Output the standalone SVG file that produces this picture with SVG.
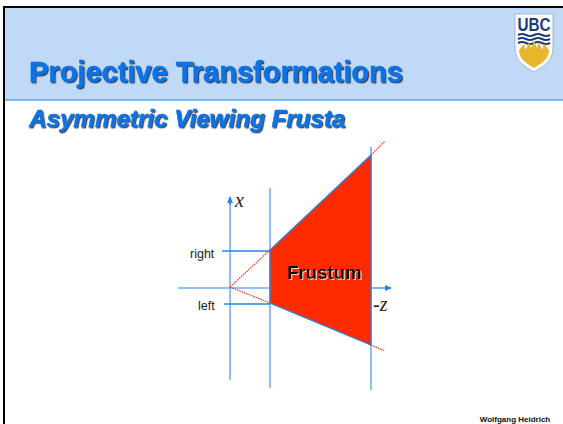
<svg xmlns="http://www.w3.org/2000/svg" width="563" height="424" viewBox="0 0 563 424">
<defs>
<filter id="sh" x="-5%" y="-20%" width="110%" height="140%"><feDropShadow dx="1.2" dy="1.2" stdDeviation="0.7" flood-color="#000" flood-opacity="0.75"/></filter>
<filter id="shw" x="-10%" y="-20%" width="120%" height="140%"><feDropShadow dx="1" dy="1" stdDeviation="0.4" flood-color="#fff" flood-opacity="0.75"/></filter>
<marker id="ah" markerWidth="7" markerHeight="6" refX="6" refY="3" orient="auto" markerUnits="userSpaceOnUse"><path d="M0,0L7,3L0,6Z" fill="#1f86e8"/></marker>
</defs>
<style>
.t{font-family:"Liberation Sans",Arial,sans-serif;font-weight:bold;fill:#0a72e6;stroke:#0a72e6;stroke-width:0.4;filter:url(#sh)}
.lab{font-family:"Liberation Sans",Arial,sans-serif;font-size:12.5px;fill:#222}
.var{font-family:"Liberation Serif","Times New Roman",serif;font-style:italic;font-size:20px;fill:#222}
.ax{stroke:#6cb0f0;stroke-width:1.6;fill:none}
.tick{stroke:#1f86e8;stroke-width:1.3;fill:none}
.ray{stroke:#ff3a2a;stroke-width:1.3;stroke-dasharray:1.5 1;fill:none}
</style>
<rect width="563" height="424" fill="#fff"/>
<rect x="4" y="7" width="559" height="93" fill="#bfd9f7"/>
<path d="M4,424V7H563" fill="none" stroke="#000" stroke-width="2"/>
<line x1="5" y1="100" x2="563" y2="100" stroke="#0a84ff" stroke-width="1"/>
<g id="logo">
<path d="M515,14H553V48C553,62 542,67 534,72C526,67 515,62 515,48Z" fill="#fff" stroke="#9aa7b8" stroke-width="0.8"/>
<path d="M517,16H551V47C551,60 541,65 534,69.500C527,65 517,60 517,47Z" fill="#fff"/>
<text x="534" y="31" text-anchor="middle" font-family="'Liberation Sans',sans-serif" font-weight="bold" font-size="19" fill="#1a3a7a" textLength="33" lengthAdjust="spacingAndGlyphs">UBC</text>
<path d="M518,35q4,-2 8,0t8,0t8,0t8,0M518,39q4,-2 8,0t8,0t8,0t8,0M518,43q4,-2 8,0t8,0t8,0t8,0" fill="none" stroke="#1a3a7a" stroke-width="2"/>
<path d="M519,50L524,44L526,50L529,42L531,48L534,41L537,48L539,42L542,50L544,44L549,50C549,60 540,64 534,68C528,64 519,60 519,50Z" fill="#e9b52f"/>
</g>
<g id="title"><text class="t" x="29" y="81.500" font-size="29">Projective Transformations</text></g>
<g id="subtitle"><text class="t" x="29" y="127" font-size="24.200" font-style="italic">Asymmetric Viewing Frusta</text></g>
<g id="connectors">
<line class="ax" x1="230" y1="380" x2="230" y2="199"/>
<line x1="230" y1="205" x2="230" y2="197" stroke="#1f86e8" stroke-width="1.200" marker-end="url(#ah)"/>
<line class="ax" x1="178" y1="288" x2="270" y2="288"/>
<line x1="371" y1="288" x2="391" y2="288" stroke="#1f86e8" stroke-width="1.200" marker-end="url(#ah)"/>
<line class="ax" x1="270" y1="188" x2="270" y2="388"/>
<line class="ax" x1="371" y1="147" x2="371" y2="390"/>
<line class="tick" x1="222" y1="251" x2="270" y2="251"/>
<line class="tick" x1="224" y1="304" x2="270" y2="304"/>
<line class="ray" x1="230" y1="287" x2="270" y2="250"/>
<line class="ray" x1="230" y1="287" x2="270" y2="303"/>
<line class="ray" x1="371" y1="155" x2="385" y2="141"/>
<line class="ray" x1="371" y1="345" x2="385" y2="351"/>
</g>
<g id="frustum">
<path d="M270,250L371,155V345L270,303Z" fill="#ff2a00" stroke="#2f7fd8" stroke-width="1.300"/>
<text x="324.500" y="279" text-anchor="middle" font-family="'Liberation Sans',Arial,sans-serif" font-weight="bold" font-size="18.700" fill="#000" filter="url(#shw)">Frustum</text>
</g>
<g id="labels">
<text class="var" x="235" y="207">x</text>
<text class="lab" x="190" y="258">right</text>
<text class="lab" x="198" y="310">left</text>
<text class="var" x="373" y="311">-z</text>
<text x="515" y="422" text-anchor="middle" font-family="'Liberation Sans',Arial,sans-serif" font-weight="bold" font-size="8" fill="#111">Wolfgang Heidrich</text>
</g>
</svg>
